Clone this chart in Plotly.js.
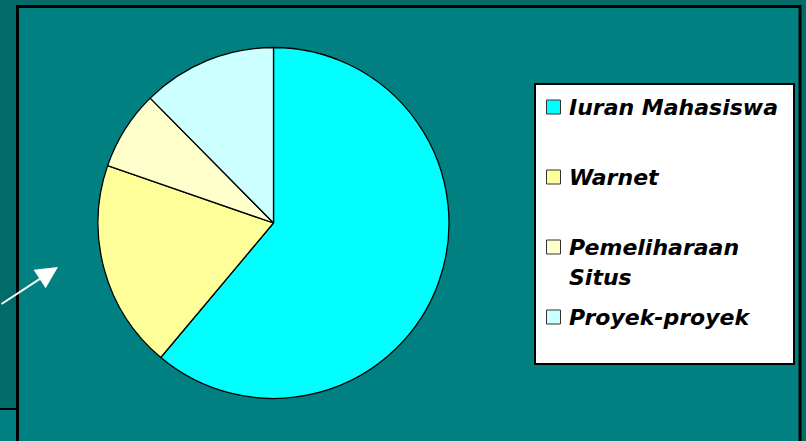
<!DOCTYPE html>
<html>
<head>
<meta charset="utf-8">
<script src="https://cdn.plot.ly/plotly-3.0.1.min.js"></script>
<style>html,body{margin:0;padding:0;background:#016b69;}#chart{width:806px;height:441px;}</style>
</head>
<body>
<div id="chart"></div>
<script>
// ---- data ----
var labels = ['Iuran Mahasiswa', 'Warnet', 'Pemeliharaan Situs', 'Proyek-proyek'];
var legendLabels = ['Iuran Mahasiswa', 'Warnet', 'Pemeliharaan<br>Situs', 'Proyek-proyek'];
var values = [61.1, 19.2, 7.3, 12.4];
var colors = ['#00FFFF', '#FFFF99', '#FFFFCC', '#CCFFFF'];

var W = 806, H = 441;
function px(x) { return x / W; }
function py(y) { return 1 - y / H; }

var shapes = [
  // main slide frame
  {type:'rect', xref:'paper', yref:'paper', x0:px(17.5), x1:px(800), y0:py(460), y1:py(6.5),
   fillcolor:'#008080', line:{color:'#000000', width:3}, layer:'below'},
  // lower-left strip area
  {type:'rect', xref:'paper', yref:'paper', x0:0, x1:px(16), y0:0, y1:py(409),
   fillcolor:'#008080', line:{width:0}, layer:'below'},
  {type:'line', xref:'paper', yref:'paper', x0:0, x1:px(16), y0:py(409), y1:py(409),
   line:{color:'#000000', width:2}, layer:'below'},
  // legend box
  {type:'rect', xref:'paper', yref:'paper', x0:px(535), x1:px(794), y0:py(364), y1:py(84),
   fillcolor:'#FFFFFF', line:{color:'#000000', width:2}, layer:'above'}
];

var annotations = [
  // arrow
  {xref:'paper', yref:'paper', x:px(58), y:py(267), ax:-64, ay:38, text:'', showarrow:true,
   arrowcolor:'#FFFFFF', arrowwidth:2, arrowhead:2, arrowsize:2.2}
];

var itemY = [107, 177, 247, 317];
for (var i = 0; i < labels.length; i++) {
  shapes.push({type:'rect', xref:'paper', yref:'paper',
    x0:px(546.5), x1:px(560.5), y0:py(itemY[i] + 7), y1:py(itemY[i] - 7),
    fillcolor:colors[i], line:{color:'#333333', width:1}, layer:'above'});
  var lines = legendLabels[i].split('<br>');
  for (var j = 0; j < lines.length; j++) {
    annotations.push({xref:'paper', yref:'paper', x:px(567), y:py(itemY[i] + j * 30),
      xanchor:'left', yanchor:'middle', align:'left', showarrow:false,
      text:lines[j],
      font:{family:'DejaVu Sans', size:22, color:'#000000', weight:'bold', style:'italic'}});
  }
}

var data = [{
  type:'pie',
  labels:labels,
  values:values,
  marker:{colors:colors, line:{color:'#000000', width:1.3}},
  sort:false,
  direction:'clockwise',
  rotation:0,
  textinfo:'none',
  hoverinfo:'label+percent',
  showlegend:false,
  domain:{x:[px(98), px(449)], y:[py(398.5), py(47.5)]}
}];

var layout = {
  width:W, height:H,
  margin:{l:0, r:0, t:0, b:0},
  paper_bgcolor:'#016b69',
  plot_bgcolor:'#016b69',
  showlegend:false,
  shapes:shapes,
  annotations:annotations
};

Plotly.newPlot('chart', data, layout, {displayModeBar:false, staticPlot:true});
</script>
</body>
</html>
